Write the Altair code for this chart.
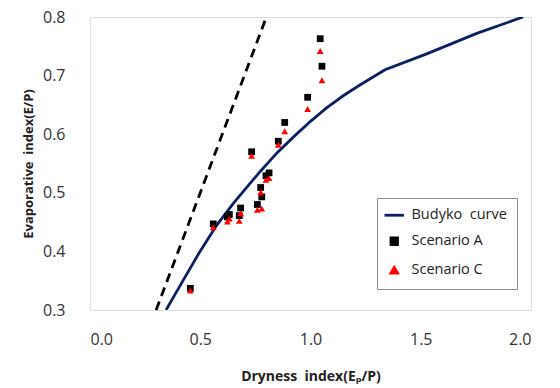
import altair as alt
import pandas as pd

# Budyko curve
curve_x = [0.345, 0.423, 0.499, 0.575, 0.650, 0.726, 0.771, 0.850, 0.922, 1.000, 1.073, 1.150, 1.224, 1.338, 1.527, 1.754, 1.964]
curve_y = [0.300, 0.351, 0.400, 0.445, 0.482, 0.516, 0.536, 0.569, 0.595, 0.622, 0.645, 0.666, 0.684, 0.710, 0.737, 0.772, 0.800]

# energy limit (dashed)
limit_x = [0.30, 0.80]
limit_y = [0.30, 0.80]

# scenarios
pts_x = [0.455, 0.559, 0.623, 0.632, 0.677, 0.683, 0.733, 0.759, 0.774, 0.779, 0.798, 0.812, 0.854, 0.883, 0.987, 1.044, 1.052]
scen_a = [0.337, 0.447, 0.459, 0.463, 0.461, 0.474, 0.570, 0.480, 0.509, 0.493, 0.529, 0.534, 0.588, 0.620, 0.663, 0.763, 0.716]
scen_c = [0.333, 0.441, 0.451, 0.456, 0.452, 0.465, 0.563, 0.471, 0.501, 0.473, 0.522, 0.525, 0.582, 0.605, 0.643, 0.742, 0.692]

series = ["Budyko\u00a0 curve", "Scenario A", "Scenario C"]
colors = ["#0b2060", "#000000", "#ff0000"]
shapes = ["M-3,0H3", "square", "triangle-up"]

x_ticks = [0.0, 0.5, 1.0, 1.5, 2.0]
y_ticks = [0.3, 0.4, 0.5, 0.6, 0.7, 0.8]

FONT = "Open Sans"

curve_df = pd.DataFrame({"x": curve_x, "y": curve_y, "series": series[0]})
limit_df = pd.DataFrame({"x": limit_x, "y": limit_y})
pts_df = pd.concat([
    pd.DataFrame({"x": pts_x, "y": scen_a, "series": series[1]}),
    pd.DataFrame({"x": pts_x, "y": scen_c, "series": series[2]}),
])

xs = alt.Scale(domain=[0, 2], nice=False, zero=False)
ys = alt.Scale(domain=[0.3, 0.8], nice=False, zero=False)

x_axis = alt.Axis(values=x_ticks, format=".1f", title="Dryness\u00a0 index(E\u209a/P)",
                  grid=False, domain=False, ticks=False, labelPadding=21,
                  labelFontSize=16, labelColor="#333333", titleFontSize=14,
                  titleFontWeight="bold", titleColor="#222222", titlePadding=22,
                  labelFont=FONT, titleFont=FONT)
y_axis = alt.Axis(values=y_ticks, format=".1f", title="Evaporative\u00a0 index(E/P)",
                  grid=False, domain=False, ticks=False, labelPadding=25,
                  labelFontSize=16, labelColor="#333333", titleFontSize=13,
                  titleFontWeight="bold", titleColor="#222222", titlePadding=7,
                  labelFont=FONT, titleFont=FONT)

legend = alt.Legend(
    title=None, orient="none", legendX=287, legendY=181,
    fillColor="white", strokeColor="#8c8c8c", padding=10, rowPadding=10,
    labelFontSize=14.5, labelFont=FONT, labelColor="#222222", labelOffset=10,
    symbolSize=42, cornerRadius=0,
    symbolStrokeColor=alt.ExprRef(expr="datum.index === 0 ? '#0b2060' : 'transparent'"),
    symbolStrokeWidth=2.8,
)

color = alt.Color("series:N", scale=alt.Scale(domain=series, range=colors), legend=legend)
shape = alt.Shape("series:N", scale=alt.Scale(domain=series, range=shapes), legend=legend)

limit = alt.Chart(limit_df).mark_line(color="black", strokeWidth=2.8, strokeDash=[9, 6]).encode(
    x=alt.X("x:Q", scale=xs, axis=x_axis), y=alt.Y("y:Q", scale=ys, axis=y_axis))

curve = alt.Chart(curve_df).mark_line(strokeWidth=2.8, clip=True).encode(
    x=alt.X("x:Q", scale=xs), y=alt.Y("y:Q", scale=ys), color=color, order="x:Q")

points = alt.Chart(pts_df).mark_point(filled=True, size=46, opacity=1).encode(
    x=alt.X("x:Q", scale=xs), y=alt.Y("y:Q", scale=ys), color=color, shape=shape)

chart = alt.layer(limit, curve, points).properties(
    width=441, height=293,
    autosize=alt.AutoSizeParams(type="none"),
    padding={"left": 90, "top": 17, "right": 29, "bottom": 78},
).configure_view(stroke="#a6a6a6", strokeWidth=1.2).configure(background="white")

chart.save("out.html", embed_options={"renderer": "svg", "actions": False})
